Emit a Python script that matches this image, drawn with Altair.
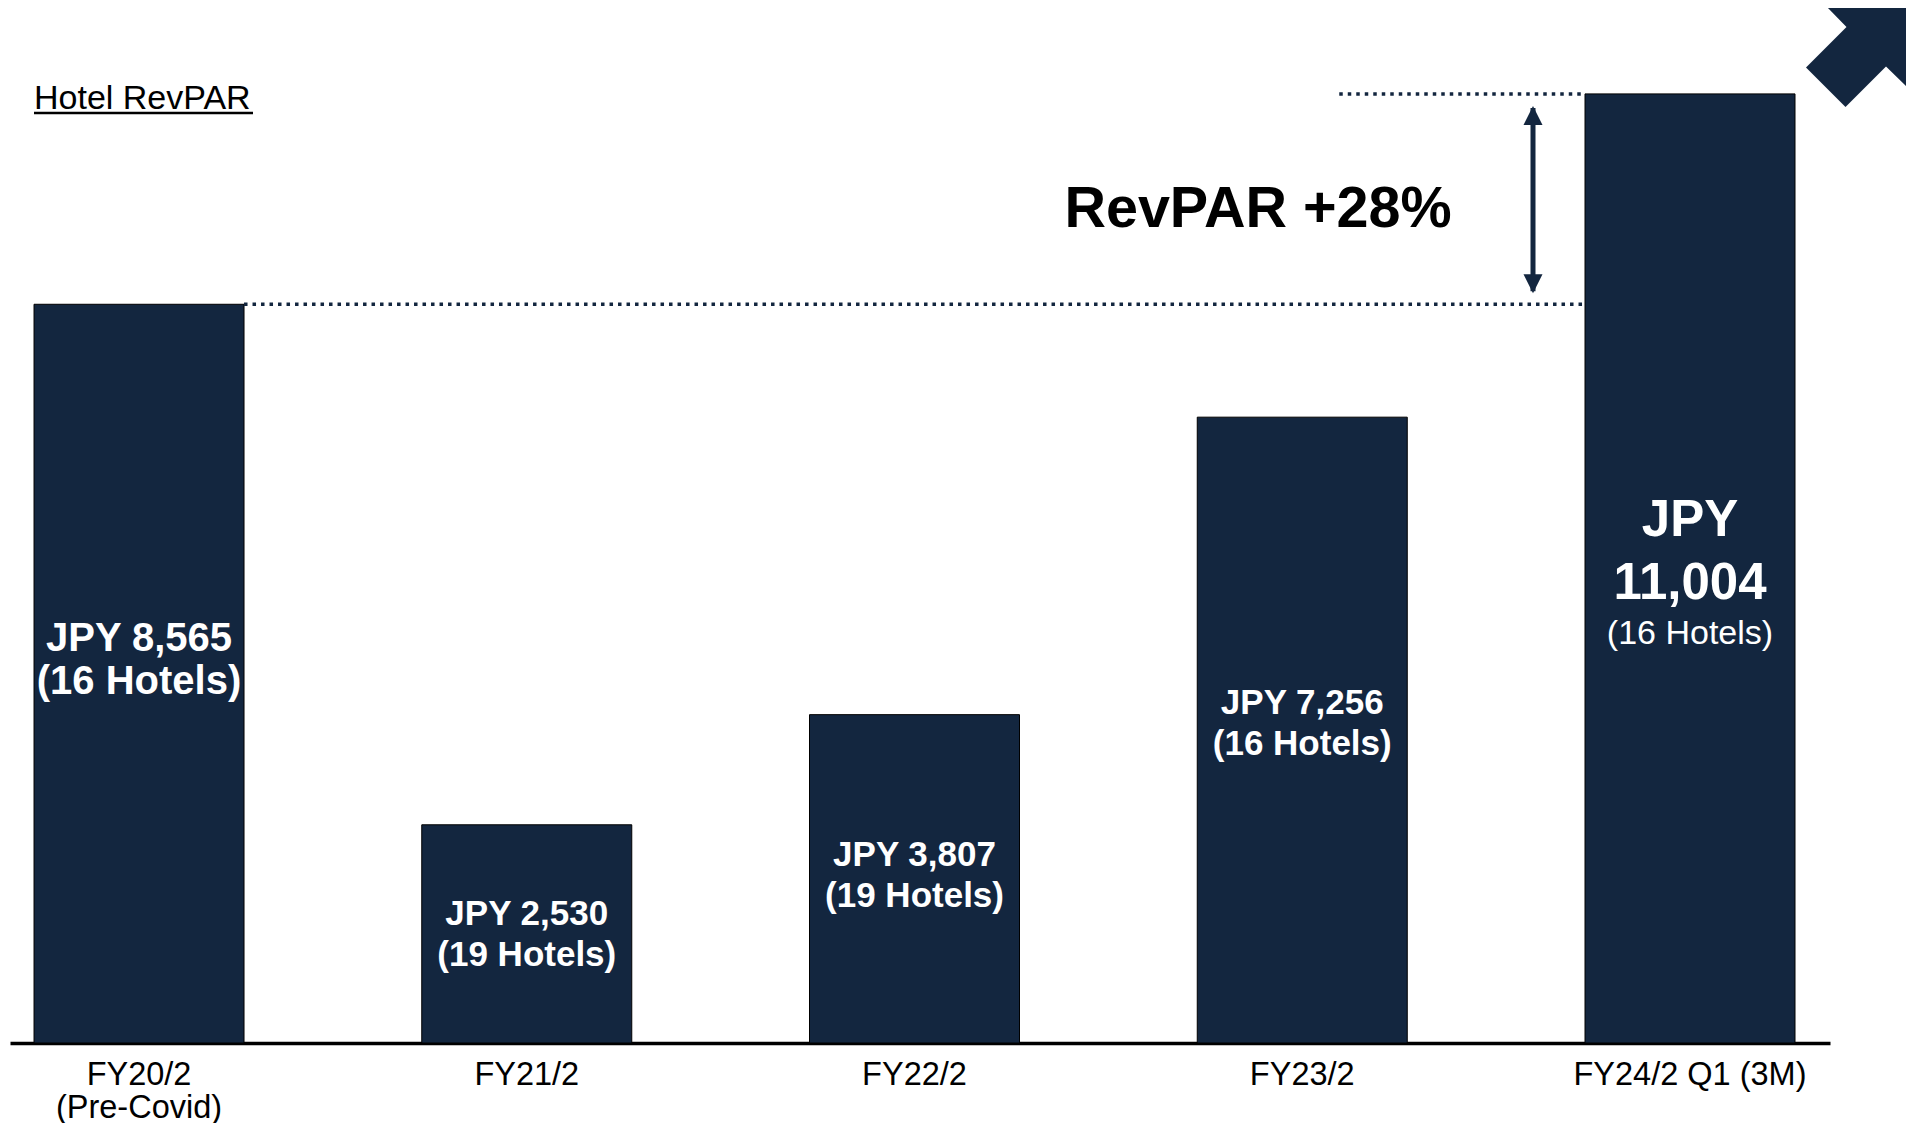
import altair as alt
import pandas as pd

# ---- data ----
categories = ["FY20/2\n(Pre-Covid)", "FY21/2", "FY22/2", "FY23/2", "FY24/2 Q1 (3M)"]
revpar = [8565, 2530, 3807, 7256, 11004]
amount_labels = ["JPY 8,565", "JPY 2,530", "JPY 3,807", "JPY 7,256", "JPY 11,004"]
hotel_labels = ["(16 Hotels)", "(19 Hotels)", "(19 Hotels)", "(16 Hotels)", "(16 Hotels)"]
title_text = "Hotel RevPAR"
growth_text = "RevPAR +28%"

NAVY = "#13263f"
FONT = "Liberation Sans"

df = pd.DataFrame({
    "idx": list(range(len(categories))),
    "cat": categories,
    "value": revpar,
    "amount": amount_labels,
    "hotels": hotel_labels,
})
df["label"] = df["amount"] + "\n" + df["hotels"]

one = pd.DataFrame({"k": [0]})

x_scale = alt.Scale(domain=categories, paddingInner=0.4584, paddingOuter=0.0761, align=0.407)
y_scale = alt.Scale(domain=[0, 12000], nice=False, zero=True)

base = alt.Chart(df)

bars = base.mark_bar(color=NAVY, stroke="#000000", strokeWidth=1).encode(
    x=alt.X("cat:N", scale=x_scale, sort=None,
            axis=alt.Axis(title=None, labelExpr="split(datum.value, '\\n')",
                          labelFont=FONT, labelFontSize=32.5, labelColor="#000000",
                          labelLineHeight=33, labelBaseline="alphabetic",
                          labelPadding=41, labelAngle=0, ticks=False, tickSize=0,
                          labelLimit=0,
                          domainColor="#000000", domainWidth=3.5,
                          labelOverlap=False, labelFlush=False, labelBound=False)),
    y=alt.Y("value:Q", scale=y_scale, axis=None),
)

# labels for the first four bars (two bold lines)
label_sizes = [40, 35, 35, 35]
label_lh = [43, 41, 41, 41]
label_dy = [-23, -9, -13, -16]
label_layers = []
for i in range(4):
    label_layers.append(
        base.transform_filter(alt.datum.idx == i)
        .transform_calculate(mid="datum.value / 2")
        .mark_text(font=FONT, fontWeight="bold", fontSize=label_sizes[i], color="white",
                   lineBreak="\n", lineHeight=label_lh[i], baseline="alphabetic", align="center",
                   dy=label_dy[i])
        .encode(x=alt.X("cat:N"), y=alt.Y("mid:Q"), text="label:N")
    )

# last bar: large bold amount on two lines + regular hotels line
last_amount = (
    base.transform_filter(alt.datum.idx == 4)
    .transform_calculate(mid="datum.value / 2")
    .mark_text(font=FONT, fontWeight="bold", fontSize=51, color="white",
               lineBreak=" ", lineHeight=63, baseline="alphabetic", align="center", dy=-32)
    .encode(x=alt.X("cat:N"), y=alt.Y("mid:Q"), text="amount:N")
)
last_hotels = (
    base.transform_filter(alt.datum.idx == 4)
    .transform_calculate(mid="datum.value / 2")
    .mark_text(font=FONT, fontWeight="normal", fontSize=34, color="white",
               baseline="alphabetic", align="center", dy=76)
    .encode(x=alt.X("cat:N"), y=alt.Y("mid:Q"), text="hotels:N")
)

# dotted reference lines
line_low = alt.Chart(one).mark_rule(color=NAVY, strokeWidth=3.5, strokeDash=[3.5, 5],
                                     xOffset=105, x2Offset=-105).encode(
    x=alt.datum(categories[0]), x2=alt.datum(categories[4]), y=alt.datum(revpar[0]))
line_high = alt.Chart(one).mark_rule(color=NAVY, strokeWidth=3.5, strokeDash=[3.5, 5],
                                      xOffset=37, x2Offset=-105).encode(
    x=alt.datum(categories[3]), x2=alt.datum(categories[4]), y=alt.datum(revpar[4]))

# double-headed arrow between the lines
shaft = alt.Chart(one).mark_rule(color=NAVY, strokeWidth=5, xOffset=-157,
                                  yOffset=14, y2Offset=-13).encode(
    x=alt.datum(categories[4]), y=alt.datum(revpar[4]), y2=alt.datum(revpar[0]))
head_up = alt.Chart(one).mark_point(shape="M0,-1L1,1L-1,1Z", size=361, filled=True,
                                     color=NAVY, opacity=1, strokeWidth=0,
                                     xOffset=-157, yOffset=21.5).encode(
    x=alt.datum(categories[4]), y=alt.datum(revpar[4]))
head_down = alt.Chart(one).mark_point(shape="M-1,-1L1,-1L0,1Z", size=361, filled=True,
                                       color=NAVY, opacity=1, strokeWidth=0,
                                       xOffset=-157, yOffset=-20.5).encode(
    x=alt.datum(categories[4]), y=alt.datum(revpar[0]))

# annotations
growth = alt.Chart(one).mark_text(text=growth_text, font=FONT, fontWeight="bold", fontSize=57.5,
                                   color="#000000", align="center", baseline="alphabetic").encode(
    x=alt.value(1248), y=alt.value(219))
title = alt.Chart(one).mark_text(text=title_text, font=FONT, fontSize=34, color="#000000",
                                  align="left", baseline="alphabetic").encode(
    x=alt.value(24), y=alt.value(101))
underline = alt.Chart(one).mark_rule(color="#000000", strokeWidth=2.5).encode(
    x=alt.value(24), x2=alt.value(243), y=alt.value(105))
big_arrow = alt.Chart(one).mark_point(
    shape="M-0.58,-1L1,-1L1,0.58L0.6,0.19L-0.21,1L-1,0.21L-0.19,-0.6Z",
    size=10000, filled=True, color=NAVY, opacity=1, strokeWidth=0).encode(
    x=alt.value(1846), y=alt.value(49))

chart = alt.layer(
    bars, *label_layers, last_amount, last_hotels,
    line_low, line_high, shaft, head_up, head_down,
    growth, title, underline, big_arrow,
).properties(
    width=1820, height=1035,
    padding={"left": 2, "top": 0, "right": 78, "bottom": 80},
    autosize=alt.AutoSizeParams(type="none"),
    background="white",
).configure_view(stroke=None)

chart.save("out.html", embed_options={"renderer": "svg", "actions": False})
